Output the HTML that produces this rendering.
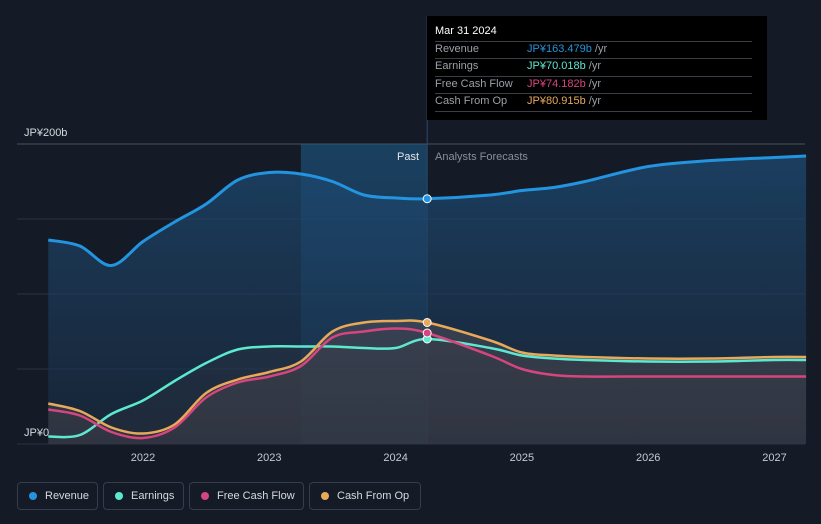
<!DOCTYPE html>
<html><head><meta charset="utf-8"><style>
html,body{margin:0;padding:0;background:#151b26;width:821px;height:524px;overflow:hidden;font-family:"Liberation Sans","Noto Sans CJK JP",sans-serif}
#wrap{position:relative;width:821px;height:524px}
.tt{position:absolute;left:427px;top:16px;width:340px;height:104px;background:#000}
.tt div{position:absolute;left:8px;font-size:11px;color:#9aa0a8}
.tt .sep{position:absolute;left:8px;width:317px;height:1px;background:#3a3f47}
.leg{position:absolute;top:482px;height:28px;border:1px solid #353c4a;border-radius:4px;box-sizing:border-box;color:#d6d9de;font-size:11px;line-height:26px;padding-left:27px}
.leg i{position:absolute;left:11px;top:9px;width:8px;height:8px;border-radius:50%}
</style></head><body><div id="wrap">
<svg id="svg" width="821" height="524" style="position:absolute;left:0;top:0">
<defs>
<linearGradient id="gRev" x1="0" y1="0" x2="0" y2="1"><stop offset="0" stop-color="#1d4a73" stop-opacity="0.75"/><stop offset="1" stop-color="#1a2d44" stop-opacity="0.55"/></linearGradient>
<linearGradient id="gPast" x1="0" y1="0" x2="0" y2="1"><stop offset="0" stop-color="#1f5e90" stop-opacity="0.55"/><stop offset="1" stop-color="#1f5e90" stop-opacity="0.25"/></linearGradient>
<linearGradient id="gLow" x1="0" y1="0" x2="0" y2="1"><stop offset="0" stop-color="#4a4c55" stop-opacity="0.6"/><stop offset="1" stop-color="#3a3d46" stop-opacity="0.5"/></linearGradient>
</defs>
<g id="grid"></g><g id="areas"></g><g id="lines"></g><g id="dots"></g><g id="labels"></g>
</svg>
<div class="tt">
<div style="top:9px;color:#fff;font-size:11px">Mar 31 2024</div>
<span class="sep" style="top:25px"></span>
<div style="top:27px">Revenue</div><div style="top:27px;left:100px;color:#2394df">JP¥163.479b <span style="color:#9aa0a8">/yr</span></div>
<span class="sep" style="top:42px"></span>
<div style="top:44px">Earnings</div><div style="top:44px;left:100px;color:#5de8d0">JP¥70.018b <span style="color:#9aa0a8">/yr</span></div>
<span class="sep" style="top:60px"></span>
<div style="top:62px">Free Cash Flow</div><div style="top:62px;left:100px;color:#d6457f">JP¥74.182b <span style="color:#9aa0a8">/yr</span></div>
<span class="sep" style="top:77px"></span>
<div style="top:79px">Cash From Op</div><div style="top:79px;left:100px;color:#e8a95a">JP¥80.915b <span style="color:#9aa0a8">/yr</span></div>
<span class="sep" style="top:95px"></span>
</div>
<div class="leg" style="left:17px;width:81px"><i style="background:#2394df"></i>Revenue</div>
<div class="leg" style="left:103px;width:81px"><i style="background:#5de8d0"></i>Earnings</div>
<div class="leg" style="left:189px;width:115px"><i style="background:#d6457f"></i>Free Cash Flow</div>
<div class="leg" style="left:309px;width:112px"><i style="background:#e8a95a"></i>Cash From Op</div>
</div>
<script>
const years=[2021.25,2021.5,2021.75,2022,2022.25,2022.5,2022.75,2023,2023.25,2023.5,2023.75,2024,2024.25,2024.75,2025,2025.25,2025.5,2026,2026.5,2027,2027.25];
const revenue=[136,132,119,135,148,160,176,181,180,175,166,164,163.5,166,169,171,175,185,189,191,192];
const earnings=[5,6,20,29,42,54,63,65,65,65,64,64,70,64,59,57,56,55,55,56,56];
const fcf=[23,19,8,4,11,31,41,45,52,71,75,77,74,59,50,46,45,45,45,45,45];
const cfo=[27,22,11,7,13,34,43,48,55,75,81,82,81,69,61,59,58,57,57,58,58];
const yTicks=[0,50,100,150,200];
const xTicks=[2022,2023,2024,2025,2026,2027];
const NOW=2024.25,PAST0=2023.25;
const X=v=>143+(v-2022)*126.3, Y=v=>444-v*1.5;
const NS='http://www.w3.org/2000/svg';
function mk(t,a,p){const e=document.createElementNS(NS,t);for(const k in a)e.setAttribute(k,a[k]);document.getElementById(p).appendChild(e);return e;}
function path(vals){const p=years.map((y,i)=>[X(y),Y(vals[i])]);let d='M'+p[0][0]+','+p[0][1];
for(let i=0;i<p.length-1;i++){const p0=p[i-1]||p[i],p1=p[i],p2=p[i+1],p3=p[i+2]||p2;
d+=` C${p1[0]+(p2[0]-p0[0])/6},${p1[1]+(p2[1]-p0[1])/6} ${p2[0]-(p3[0]-p1[0])/6},${p2[1]-(p3[1]-p1[1])/6} ${p2[0]},${p2[1]}`;}return d;}
yTicks.forEach(t=>{const g=mk('line',{x1:17,x2:805,y1:Y(t),y2:Y(t),stroke:t==200?'#4a505c':'#2c3340','stroke-width':1},'grid');

});
const pr=mk('rect',{x:X(PAST0),y:Y(200),width:X(NOW)-X(PAST0),height:Y(0)-Y(200),fill:'url(#gPast)'},'grid');


const x0=X(years[0]),x1=X(years[years.length-1]);
[[revenue,'url(#gRev)','revenue-area'],[cfo,'url(#gLow)','cfo-area'],[fcf,'rgba(60,60,70,0.25)','fcf-area'],[earnings,'rgba(60,62,70,0.2)','earnings-area']].forEach(([v,f,n])=>{
const a=mk('path',{d:path(v)+` L${x1},${Y(0)} L${x0},${Y(0)} Z`,fill:f},'areas');

});
const vl=mk('line',{x1:X(NOW),x2:X(NOW),y1:16,y2:444,stroke:'#2b4a6b','stroke-width':1},'grid');


const ser=[[earnings,'#5de8d0','earnings-line'],[fcf,'#d6457f','fcf-line'],[cfo,'#e8a95a','cfo-line'],[revenue,'#2394df','revenue-line']];
ser.forEach(([v,c,n])=>{const l=mk('path',{d:path(v),fill:'none',stroke:c,'stroke-width':n=='revenue-line'?3:2.5},'lines');


const i=years.indexOf(NOW);const d=mk('circle',{cx:X(NOW),cy:Y(v[i]),r:4,fill:c,stroke:'#fff','stroke-width':1},'dots');

});
xTicks.forEach(t=>{const e=mk('text',{x:X(t),y:461,fill:'#c5c9d0','font-size':11,'text-anchor':'middle'},'labels');e.textContent=t;

});
[['JP¥200b',24,136,'#d6d9de','y-label-top'],['JP¥0',24,436,'#d6d9de','y-label-zero'],['Past',419,160,'#e4e6ea','past-label'],['Analysts Forecasts',435,160,'#8a9099','forecast-label']].forEach(([t,x,y,c,n])=>{
const e=mk('text',{x:x,y:y,fill:c,'font-size':11,'text-anchor':n=='past-label'?'end':'start'},'labels');e.textContent=t;

});
</script>
</body></html>
